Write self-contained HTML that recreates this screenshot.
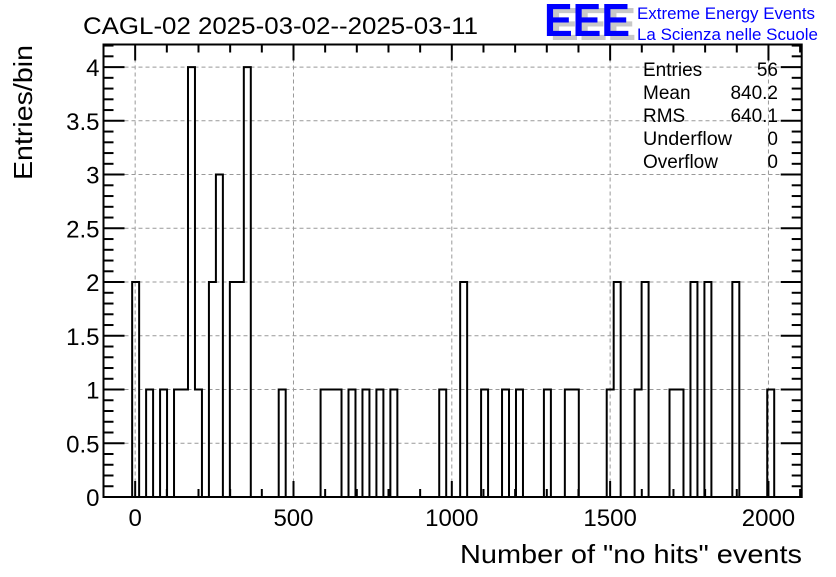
<!DOCTYPE html>
<html><head><meta charset="utf-8"><style>
body{margin:0;background:#fff;}
svg text{font-family:"Liberation Sans",sans-serif;}
</style></head><body>
<svg id="chart" width="836" height="572" xmlns="http://www.w3.org/2000/svg">
<rect width="836" height="572" fill="#fff"/>
<text x="83" y="34" font-size="24" textLength="395" lengthAdjust="spacingAndGlyphs">CAGL-02 2025-03-02--2025-03-11</text>
<g>
<text x="550" y="40" font-size="46" font-weight="bold" fill="#c8c8c8" textLength="86" lengthAdjust="spacingAndGlyphs">EEE</text>
<text x="544" y="36" font-size="46" font-weight="bold" fill="#0000ff" textLength="86" lengthAdjust="spacingAndGlyphs">EEE</text>
<text x="637" y="19" font-size="17" fill="#0000ff" textLength="178" lengthAdjust="spacingAndGlyphs">Extreme Energy Events</text>
<text x="637" y="40" font-size="17" fill="#0000ff" textLength="181" lengthAdjust="spacingAndGlyphs">La Scienza nelle Scuole</text>
</g>
<g id="grid"></g>
<g id="hist"></g>
<g id="axes"></g>
<g font-size="19">
<text x="643" y="76">Entries</text><text x="778" y="76" text-anchor="end">56</text>
<text x="643" y="99">Mean</text><text x="778" y="99" text-anchor="end">840.2</text>
<text x="643" y="122">RMS</text><text x="778" y="122" text-anchor="end">640.1</text>
<text x="643" y="145" textLength="89" lengthAdjust="spacingAndGlyphs">Underflow</text><text x="778" y="145" text-anchor="end">0</text>
<text x="643" y="168">Overflow</text><text x="778" y="168" text-anchor="end">0</text>
</g>
<text transform="translate(32,45) rotate(-90)" font-size="26" text-anchor="end" textLength="135" lengthAdjust="spacingAndGlyphs">Entries/bin</text>
<text x="460" y="563" font-size="26" textLength="342" lengthAdjust="spacingAndGlyphs">Number of "no hits" events</text>
</svg>
<script>
const binStart = -9.5;
const binWidth = 22.04;
const binIndex = [0,2,4,6,7,8,9,11,12,14,15,16,21,27,28,29,31,33,35,37,44,47,50,53,55,59,62,63,68,69,72,73,77,78,80,82,86,91];
const binCount = [2,1,1,1,1,4,1,2,3,2,2,4,1,1,1,1,1,1,1,1,1,2,1,1,1,1,1,1,1,2,1,2,1,1,2,2,2,1];
const xTicks = [0,500,1000,1500,2000];
const yTicks = [0,0.5,1,1.5,2,2.5,3,3.5,4];
const yTickLabels = ["0","0.5","1","1.5","2","2.5","3","3.5","4"];

const L=103.5,R=801.7,T=44.5,B=497;
const xMin=-100,xMax=2105,yMin=0,yMax=4.21;
const X=v=>L+(v-xMin)/(xMax-xMin)*(R-L);
const Y=v=>B-(v-yMin)/(yMax-yMin)*(B-T);
const NS="http://www.w3.org/2000/svg";
function mk(tag,attrs,parent){const e=document.createElementNS(NS,tag);for(const k in attrs)e.setAttribute(k,attrs[k]);parent.appendChild(e);return e;}
const grid=document.getElementById('grid'),hist=document.getElementById('hist'),axes=document.getElementById('axes');

xTicks.forEach(v=>{const l=mk('line',{x1:X(v),x2:X(v),y1:T,y2:B,stroke:'#999','stroke-dasharray':'4,3','stroke-width':1},grid);

});
yTicks.forEach(v=>{if(v===0)return;const l=mk('line',{x1:L,x2:R,y1:Y(v),y2:Y(v),stroke:'#999','stroke-dasharray':'4,3','stroke-width':1},grid);

});

const nb=Math.max(...binIndex)+1;
const counts=new Array(nb+1).fill(0);
binIndex.forEach((k,i)=>counts[k]=binCount[i]);
let d=`M${X(binStart)},${Y(0)}`;
for(let k=0;k<=nb;k++){const x0=X(binStart+k*binWidth),x1=X(binStart+(k+1)*binWidth);d+=` L${x0},${Y(counts[k])} L${x1},${Y(counts[k])}`;}
const p=mk('path',{d:d,fill:'none',stroke:'#000','stroke-width':2},hist);



const fr=mk('rect',{x:L,y:T,width:R-L,height:B-T,fill:'none',stroke:'#000','stroke-width':2},axes);


for(let v=-100;v<=2100;v+=100){const major=v%500===0;const len=major?16:8;
 mk('line',{x1:X(v),x2:X(v),y1:B,y2:B-len,stroke:'#000','stroke-width':2},axes);
 mk('line',{x1:X(v),x2:X(v),y1:T,y2:T+len,stroke:'#000','stroke-width':2},axes);}
xTicks.forEach(v=>{const t=mk('text',{x:X(v),y:B+29,'font-size':24,'text-anchor':'middle'},axes);t.textContent=String(v);

});
for(let i=0;i<=42;i++){const v=i/10;const major=i%5===0;const len=major?21:10;
 mk('line',{x1:L,x2:L+len,y1:Y(v),y2:Y(v),stroke:'#000','stroke-width':2},axes);
 mk('line',{x1:R,x2:R-len,y1:Y(v),y2:Y(v),stroke:'#000','stroke-width':2},axes);}
yTicks.forEach((v,i)=>{const t=mk('text',{x:L-4,y:Y(v)+9,'font-size':24,'text-anchor':'end'},axes);t.textContent=yTickLabels[i];

});
</script>
</body></html>
